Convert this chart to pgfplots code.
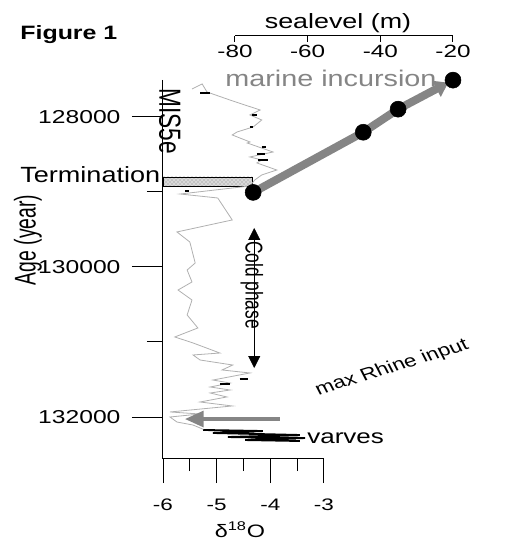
\documentclass[border=0pt]{standalone}
\usepackage{fontspec}
\setmainfont{Liberation Sans}
\usepackage{pgfplots}
\pgfplotsset{compat=1.18}
\usetikzlibrary{arrows.meta,patterns}

\definecolor{curvegray}{HTML}{B0B0B0}
\definecolor{arrowgray}{HTML}{858585}

\begin{document}
\begin{tikzpicture}
\useasboundingbox (0,0) rectangle (390pt,408pt);

% d18O record against age
\begin{axis}[
  at={(122.25pt,63.75pt)}, anchor=south west,
  scale only axis, width=120.75pt, height=284.25pt,
  xmin=-6, xmax=-3, ymin=127507, ymax=132560, y dir=reverse,
  hide x axis, axis y line*=left,
  axis line style={-, black, line width=0.75pt},
  clip=false, scaled y ticks=false,
  ytick={128000,130000,132000}, yticklabels={128000,130000,132000},
  minor ytick={129000,131000},
  tick align=outside, major tick length=23.25pt, minor tick length=12pt,
  tick style={black, line width=0.75pt},
  yticklabel style={font=\fontsize{14}{14}\selectfont, xshift=-4pt, xscale=1.32},
]
% termination bar
\addplot[draw=black, line width=0.6pt, fill=gray!30,
  postaction={pattern=crosshatch dots, pattern color=gray}]
  coordinates {(-6,128800) (-4.34,128800) (-4.34,128920) (-6,128920)} --cycle;

\addplot[curvegray, line width=0.6pt] coordinates {
  (-5.46,127627) (-5.27,127560) (-5.18,127667) (-4.70,127787) (-4.19,127907)
  (-4.38,127973) (-4.16,128040) (-4.32,128133) (-4.62,128200) (-4.71,128240)
  (-4.38,128333) (-4.43,128347) (-3.95,128467) (-4.38,128533) (-4.16,128573)
  (-4.25,128613) (-3.88,128707) (-4.16,128773) (-4.29,128840) (-4.38,128920)
  (-5.68,129027) (-4.98,129080) (-4.71,129373) (-5.74,129533) (-5.50,129667)
  (-5.40,129947) (-5.55,130040) (-5.46,130200) (-5.72,130307) (-5.46,130440)
  (-5.55,130640) (-5.35,130813) (-5.78,130933) (-5.44,131013) (-4.94,131147)
  (-5.44,131173) (-5.31,131240) (-4.70,131307) (-4.90,131373) (-4.38,131413)
  (-5.07,131507) (-4.75,131547) (-5.12,131600) (-4.75,131640) (-5.12,131680)
  (-4.81,131733) (-5.31,131800) (-4.71,131853) (-5.87,131933) (-5.31,131960)
  (-5.87,132000) (-5.74,132067) (-5.44,132107) (-5.22,132173)
};

% black sample marks
\addplot[black, line width=1.2pt, unbounded coords=jump] coordinates {
  (-5.31,127680) (-5.12,127680) (nan,nan)
  (-4.34,127973) (-4.25,127973) (nan,nan)
  (-4.38,128133) (-4.32,128133) (nan,nan)
  (-4.16,128400) (-4.08,128400) (nan,nan)
  (-4.25,128493) (-4.10,128493) (nan,nan)
  (-4.23,128573) (-4.04,128573) (nan,nan)
  (-5.59,128987) (-5.52,128987) (nan,nan)
  (-4.57,131493) (-4.42,131493) (nan,nan)
  (-4.94,131560) (-4.75,131560)
};

% varves
\addplot[black, line width=1.4pt] coordinates {
  (-5.25,132173) (-4.14,132187) (-5.07,132213) (-3.45,132240)
  (-4.79,132267) (-3.35,132280) (-4.47,132307) (-3.45,132320)
};

\draw[black, line width=0.6pt, {Triangle[width=9pt,length=9pt]}-{Triangle[width=9pt,length=9pt]}]
  (axis cs:-4.30,129480) -- (axis cs:-4.30,131347);
\draw[arrowgray, line width=2.3pt, -{Triangle[width=12pt,length=14pt]}]
  (axis cs:-3.82,132027) -- (axis cs:-5.59,132027);
\end{axis}

% bottom d18O axis
\begin{axis}[
  at={(122.25pt,63.75pt)}, anchor=south west,
  scale only axis, width=120.75pt, height=284.25pt,
  xmin=-6, xmax=-3, ymin=0, ymax=1,
  hide y axis, axis x line*=bottom,
  axis line style={-, black, line width=0.75pt},
  xtick={-6,-5,-4,-3}, xticklabels={{-6},{-5},{-4},{-3}}, minor x tick num=1,
  tick align=outside, major tick length=18pt, minor tick length=9pt,
  tick style={black, line width=0.75pt},
  xticklabel style={font=\fontsize{12.5}{12.5}\selectfont, yshift=-8.5pt, xscale=1.35},
]
\end{axis}

% sea level axis on top
\begin{axis}[
  at={(176.25pt,381pt)}, anchor=south west,
  scale only axis, width=163.5pt, height=7.5pt,
  xmin=-80, xmax=-20, ymin=126787, ymax=126920, y dir=reverse,
  hide y axis, axis x line*=bottom,
  axis line style={-, black, line width=0.75pt},
  clip=false,
  xtick={-80,-60,-40,-20}, xticklabels={{-80},{-60},{-40},{-20}},
  tick align=outside, major tick length=4.5pt,
  tick style={black, line width=0.75pt},
  xticklabel style={font=\fontsize{13.3}{13.3}\selectfont, yshift=1pt, xscale=1.37},
]
\addplot[arrowgray, line width=6pt, shorten >=4pt,
  -{Triangle[width=13pt,length=10pt]}] coordinates {
  (-75.0,129000) (-44.7,128200) (-35.1,127893) (-20,127507)
};
\addplot[only marks, mark=*, mark size=6pt, black] coordinates {
  (-75.0,129000) (-44.7,128200) (-35.1,127893) (-20,127507)
};
\end{axis}

% texts, positioned in reference pixels
\begin{scope}[x=0.75pt,y=0.75pt,every node/.style={inner sep=0pt}]
\node[anchor=base west, font=\bfseries\fontsize{14.5}{14.5}\selectfont, xscale=1.29] at (20,504) {Figure 1};
\node[anchor=base, font=\fontsize{15.5}{15.5}\selectfont, xscale=1.3] at (338,515) {sealevel (m)};
\node[anchor=base west, text=arrowgray, font=\fontsize{17}{17}\selectfont, xscale=1.27] at (225,457) {marine incursion};
\node[anchor=base west, font=\fontsize{16.5}{16.5}\selectfont, xscale=1.23] at (20,361.5) {Termination};
\node[font=\fontsize{17}{17}\selectfont, xscale=1.35, rotate=-90] at (170,423) {MIS5e};
\node[font=\fontsize{14.5}{14.5}\selectfont, xscale=1.55, rotate=90] at (28,304) {Age (year)};
\node[font=\fontsize{13}{13}\selectfont, xscale=1.4, rotate=-90] at (252,259) {Cold phase};
\node[font=\fontsize{13}{13}\selectfont, xscale=1.3, rotate=21.7] at (392,176) {max Rhine input};
\node[anchor=base west, font=\fontsize{15}{15}\selectfont, xscale=1.3] at (307,100) {varves};
\node[font=\fontsize{13.5}{13.5}\selectfont, xscale=1.3] at (240,14) {δ\textsuperscript{18}O};
\end{scope}
\end{tikzpicture}
\end{document}
